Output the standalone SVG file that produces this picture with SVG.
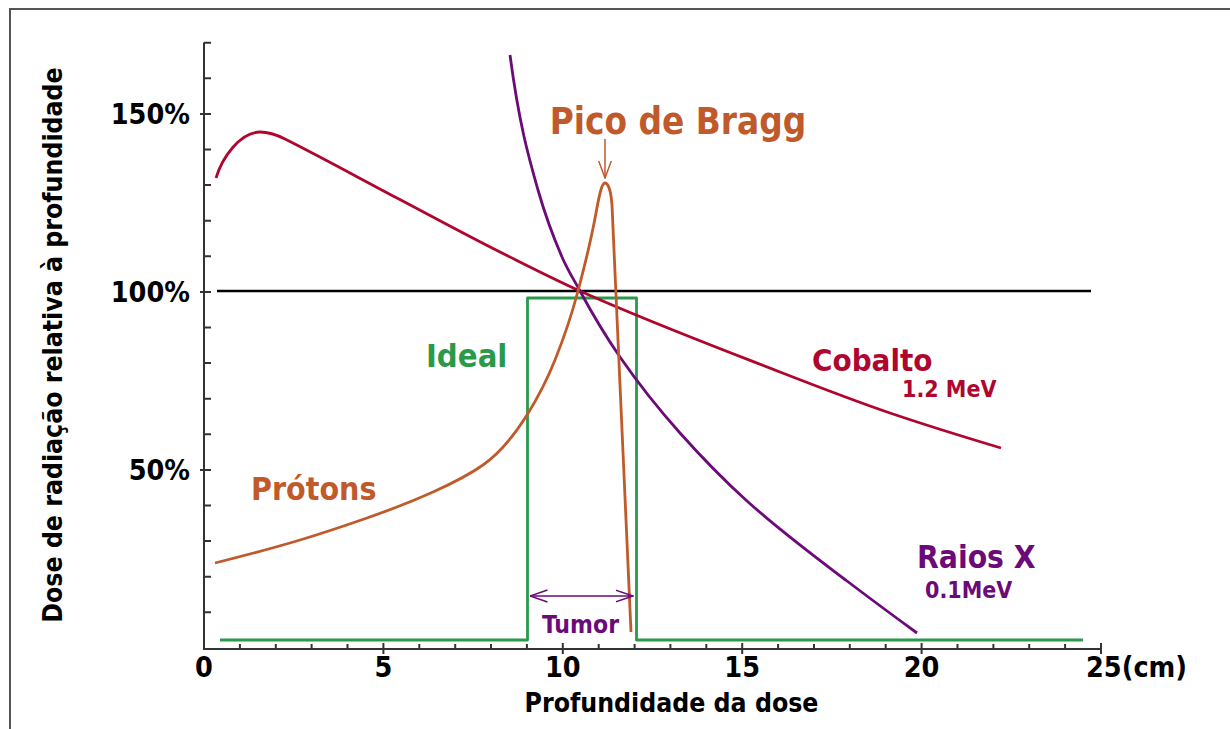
<svg xmlns="http://www.w3.org/2000/svg" width="1230" height="729" viewBox="0 0 1230 729">
<style>
text{font-family:"DejaVu Sans Condensed","DejaVu Sans",Verdana,sans-serif;font-stretch:condensed;font-weight:bold}
.ax{stroke:#333;stroke-width:2;fill:none}
.tk{font-size:28.5px;fill:#000}
.curve{fill:none;stroke-width:2.8;stroke-linejoin:round;stroke-linecap:butt}
</style>
<defs>
<marker id="arrP" markerUnits="userSpaceOnUse" viewBox="0 0 18 14" refX="17.5" refY="7" markerWidth="18" markerHeight="14" orient="auto-start-reverse">
<path d="M0,1 L17.5,7 L0,13" fill="none" stroke="#6b0a78" stroke-width="1.5"/>
</marker>
<marker id="arrO" markerUnits="userSpaceOnUse" viewBox="0 0 18 14" refX="17.5" refY="7" markerWidth="18" markerHeight="14" orient="auto">
<path d="M0,0.5 L17.5,7 L0,13.5" fill="none" stroke="#c05a2b" stroke-width="1.5"/>
</marker>
</defs>
<rect width="1230" height="729" fill="#fff"/>
<g id="frame">
<path d="M10,729 V9 H1230" fill="none" stroke="#555" stroke-width="2"/>
</g>
<g id="axes">
<path class="ax" d="M204,42.5 V649 H1101"/>
<path class="ax" d="M204,42.7 h7 M204,78.3 h7 M204,149.5 h7 M204,185.1 h7 M204,220.7 h7 M204,256.3 h7 M204,327.5 h7 M204,363.1 h7 M204,398.7 h7 M204,434.3 h7 M204,505.5 h7 M204,541.1 h7 M204,576.7 h7 M204,612.3 h7"/>
<path class="ax" d="M200,113.9 h11 M200,291.9 h11 M200,469.9 h11" stroke-width="2.5"/>
<path class="ax" d="M239.9,649 v-5 M275.8,649 v-5 M311.6,649 v-5 M347.5,649 v-5 M419.3,649 v-5 M455.2,649 v-5 M491,649 v-5 M526.9,649 v-5 M598.7,649 v-5 M634.6,649 v-5 M670.4,649 v-5 M706.3,649 v-5 M778.1,649 v-5 M814,649 v-5 M849.8,649 v-5 M885.7,649 v-5 M957.5,649 v-5 M993.4,649 v-5 M1029.2,649 v-5 M1065.1,649 v-5"/>
<path class="ax" d="M383.4,643 v11 M562.8,643 v11 M742.2,643 v11 M921.6,643 v11 M1101,643 v11" stroke-width="2.5"/>
<text class="tk" x="190" y="124" text-anchor="end">150%</text>
<text class="tk" x="190" y="302" text-anchor="end">100%</text>
<text class="tk" x="190" y="480" text-anchor="end">50%</text>
<text class="tk" x="204" y="677" text-anchor="middle">0</text>
<text class="tk" x="383.4" y="677" text-anchor="middle">5</text>
<text class="tk" x="562.8" y="677" text-anchor="middle">10</text>
<text class="tk" x="742.2" y="677" text-anchor="middle">15</text>
<text class="tk" x="921.6" y="677" text-anchor="middle">20</text>
<text class="tk" x="1086" y="677">25(cm)</text>
<text x="671.5" y="712" text-anchor="middle" font-size="26.4" fill="#000">Profundidade da dose</text>
<text transform="translate(62,345) rotate(-90)" text-anchor="middle" font-size="26.4" fill="#000">Dose de radiação relativa à profundidade</text>
</g>
<g id="connectors">
<path id="ref100" d="M217,291 H1091" stroke="#000" stroke-width="2.6" fill="none"/>
<path id="ideal" class="curve" stroke="#2a9a4a" d="M220,640 H527.5 V298 H636.5 V640 H1083"/>
<path id="cobalto" class="curve" stroke="#b0052e" d="M216,178 C222,158 240,132 260,132 C268.3,132 276.7,134.8 285,139 C322.3,157.7 359.7,178.4 397,198 C431.3,216 465.7,234.8 500,252 C526.7,265.3 553.3,279 580,291 C646.7,321 713.3,346 780,372 C816.7,386.3 853.3,400.5 890,413 C927,425.6 964,436.9 1001,448"/>
<path id="raiosx" class="curve" stroke="#6b0a78" stroke-width="2.5" d="M510,55 C519.3,125 528.7,157.3 538,190 C546,218 554,238.6 562,257 C568,270.8 574,279.9 580,291 C593.3,315.7 606.7,337.7 620,357 C640,386 660,410.6 680,433 C702.3,458 724.7,480.9 747,501 C780.3,531 813.7,555.7 847,581 C870.3,598.7 893.7,616 917,633"/>
<path id="protons" class="curve" stroke="#c05a2b" d="M215,563 C243.3,555.9 271.7,548.5 300,540 C322.3,533.3 344.7,525.8 367,518 C389,510.3 411,501.9 433,492 C449.7,484.5 466.3,476.7 483,465 C497.7,454.7 512.3,438.5 527,415 C536.3,400.1 545.7,383.3 555,360 C562.7,340.8 570.3,320.1 578,291 C584,268.2 590,246 596,213 C599,196.5 601.5,183 605,183 C608.5,183 611,192 612,205 L631,632"/>
<path id="tumor-arrow" d="M530,596 H633" stroke="#6b0a78" stroke-width="1.5" fill="none" marker-start="url(#arrP)" marker-end="url(#arrP)"/>
<path id="bragg-arrow" d="M605,139 V178" stroke="#c05a2b" stroke-width="1.5" fill="none" marker-end="url(#arrO)"/>
</g>
<g id="label-bragg"><text x="678" y="134" text-anchor="middle" font-size="36.5" fill="#c05a2b">Pico de Bragg</text></g>
<g id="label-ideal"><text x="426" y="367" font-size="32.5" fill="#2a9a4a">Ideal</text></g>
<g id="label-protons"><text x="251" y="500" font-size="31.8" fill="#c05a2b">Prótons</text></g>
<g id="label-cobalto"><text x="812" y="371" font-size="31" fill="#b0052e">Cobalto</text><text x="902" y="397" font-size="23" fill="#b0052e">1.2 MeV</text></g>
<g id="label-raiosx"><text x="917" y="568" font-size="31.5" fill="#6b0a78">Raios X</text><text x="925" y="598" font-size="23" fill="#6b0a78">0.1MeV</text></g>
<g id="label-tumor"><text x="542" y="633" font-size="24.5" fill="#6b0a78">Tumor</text></g>
</svg>
